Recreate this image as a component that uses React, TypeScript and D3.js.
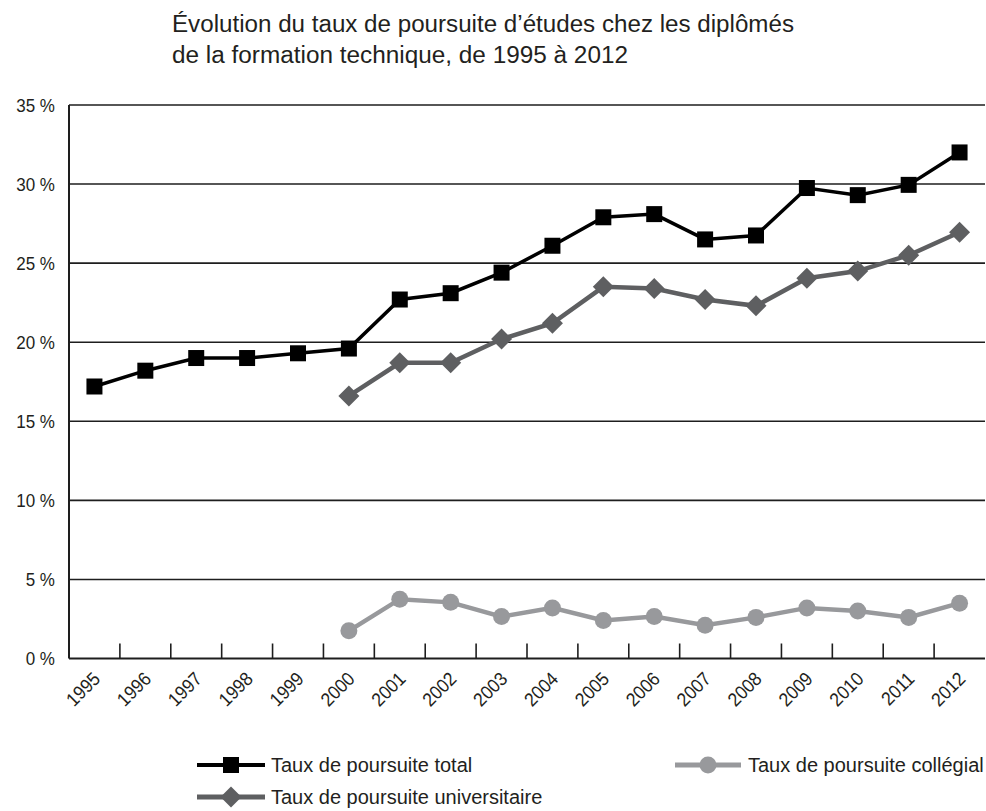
import React from "react";
import * as d3 from "d3";

const years = ["1995","1996","1997","1998","1999","2000","2001","2002","2003","2004","2005","2006","2007","2008","2009","2010","2011","2012"];
const totalValues: (number | null)[] = [17.2,18.2,19.0,19.0,19.3,19.6,22.7,23.1,24.4,26.1,27.9,28.1,26.5,26.75,29.75,29.3,29.95,32.0];
const univValues: (number | null)[] = [null,null,null,null,null,16.6,18.7,18.7,20.2,21.2,23.5,23.4,22.7,22.3,24.05,24.5,25.5,26.95];
const collValues: (number | null)[] = [null,null,null,null,null,1.75,3.75,3.55,2.65,3.2,2.4,2.65,2.1,2.6,3.2,3.0,2.6,3.5];
const yTicks = [0,5,10,15,20,25,30,35];
const titleLines = ["Évolution du taux de poursuite d’études chez les diplômés", "de la formation technique, de 1995 à 2012"];
const legendLabels = ["Taux de poursuite total", "Taux de poursuite collégial", "Taux de poursuite universitaire"];

const FONT = "'Liberation Sans', Arial, sans-serif";

export default function App() {
  const W = 986, H = 811;
  const left = 69, right = 985, top = 105, bottom = 658.5;
  const x = d3.scaleBand<string>().domain(years).range([left, right]);
  const y = d3.scaleLinear().domain([0, 35]).range([bottom, top]);
  const cx = (yr: string) => (x(yr) as number) + x.bandwidth() / 2;

  const mk = (vals: (number | null)[]) =>
    d3.line<[string, number | null]>()
      .defined((d) => d[1] != null)
      .x((d) => cx(d[0]))
      .y((d) => y(d[1] as number))(years.map((yr, i) => [yr, vals[i]]));

  const cBlack = "#000000";
  const cDark = "#5e5f61";
  const cLight = "#98999c";
  const txt = "#231f20";

  const pts = (vals: (number | null)[]) =>
    years.map((yr, i) => ({ yr, v: vals[i] })).filter((d) => d.v != null) as { yr: string; v: number }[];

  const square = (px: number, py: number, s: number, c: string, key: string) => (
    <rect key={key} x={px - s / 2} y={py - s / 2} width={s} height={s} fill={c} />
  );
  const diamond = (px: number, py: number, r: number, c: string, key: string) => (
    <path key={key} d={`M${px},${py - r}L${px + r},${py}L${px},${py + r}L${px - r},${py}Z`} fill={c} />
  );

  const titleLens = [622, 456];

  return (
    <svg width={W} height={H} style={{ position: "absolute", left: 0, top: 0, background: "#fff" }} fontFamily={FONT}>
      <rect width={W} height={H} fill="#fff" />
      {titleLines.map((t, i) => (
        <text key={i} x={172} y={32 + i * 31} fontSize={23.5} fill={txt} textLength={titleLens[i]} lengthAdjust="spacingAndGlyphs">{t}</text>
      ))}
      {/* gridlines */}
      {yTicks.map((t) => (
        <g key={t}>
          {t > 0 && <line x1={left} x2={right} y1={y(t)} y2={y(t)} stroke="#1e1e1e" strokeWidth={1.6} />}
          <text transform={`translate(55,${y(t)}) scale(0.92,1)`} dy="0.36em" textAnchor="end" fontSize={18.5} fill={txt}>{`${t} %`}</text>
        </g>
      ))}
      {/* axes */}
      <line x1={left} x2={left} y1={top} y2={bottom} stroke="#1e1e1e" strokeWidth={2} />
      <line x1={left} x2={right} y1={bottom} y2={bottom} stroke="#1e1e1e" strokeWidth={2} />
      {years.slice(1).map((yr) => (
        <line key={yr} x1={x(yr)} x2={x(yr)} y1={bottom} y2={bottom - 15} stroke="#1e1e1e" strokeWidth={1.6} />
      ))}
      {years.map((yr) => (
        <text key={yr} transform={`translate(${cx(yr) + 7},${bottom + 21.5}) rotate(-45) scale(0.92,1)`} textAnchor="end" fontSize={19} fill={txt}>{yr}</text>
      ))}
      {/* series */}
      <path d={mk(collValues) || ""} fill="none" stroke={cLight} strokeWidth={4.5} />
      {pts(collValues).map((d) => <circle key={d.yr} cx={cx(d.yr)} cy={y(d.v)} r={8.5} fill={cLight} />)}
      <path d={mk(univValues) || ""} fill="none" stroke={cDark} strokeWidth={4.5} />
      {pts(univValues).map((d) => diamond(cx(d.yr), y(d.v), 10.5, cDark, d.yr))}
      <path d={mk(totalValues) || ""} fill="none" stroke={cBlack} strokeWidth={3.5} />
      {pts(totalValues).map((d) => square(cx(d.yr), y(d.v), 16, cBlack, d.yr))}
      {/* legend */}
      <g>
        <line x1={197} x2={265} y1={765} y2={765} stroke={cBlack} strokeWidth={4} />
        {square(231, 765, 16, cBlack, "lt")}
        <text x={271} y={765} dy="0.36em" fontSize={20} fill={txt}>{legendLabels[0]}</text>
        <line x1={675} x2={741} y1={765} y2={765} stroke={cLight} strokeWidth={5} />
        <circle cx={708} cy={765} r={8.5} fill={cLight} />
        <text x={748} y={765} dy="0.36em" fontSize={20} fill={txt}>{legendLabels[1]}</text>
        <line x1={197} x2={265} y1={797} y2={797} stroke={cDark} strokeWidth={5} />
        {diamond(231, 797, 10.5, cDark, "lu")}
        <text x={271} y={797} dy="0.36em" fontSize={20} fill={txt}>{legendLabels[2]}</text>
      </g>
    </svg>
  );
}
